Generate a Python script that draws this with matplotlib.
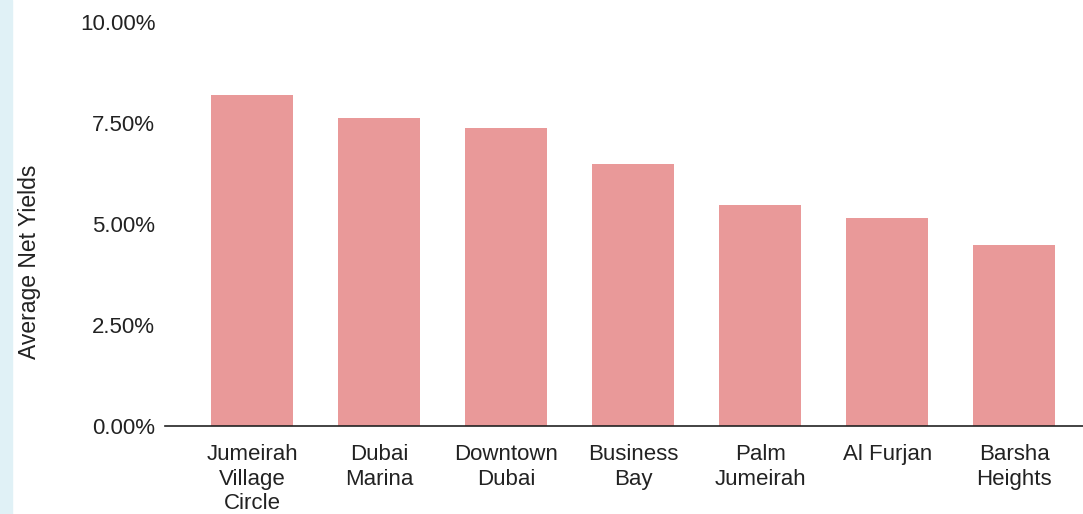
import matplotlib
matplotlib.use('Agg')
import matplotlib.pyplot as plt
from matplotlib.patches import Rectangle
from matplotlib.ticker import FuncFormatter

plt.rcParams['font.family'] = ['Liberation Sans', 'DejaVu Sans']

areas = ['Jumeirah\nVillage\nCircle', 'Dubai\nMarina', 'Downtown\nDubai',
         'Business\nBay', 'Palm\nJumeirah', 'Al Furjan', 'Barsha\nHeights']
yields = [8.19, 7.62, 7.38, 6.49, 5.47, 5.15, 4.48]
yticks = [0, 2.5, 5, 7.5, 10]

BAR = '#e99999'
TEXT = '#222222'

fig = plt.figure(figsize=(10.83, 5.14), dpi=100)
fig.patches.append(Rectangle((0, 0), 12 / 1083, 1, transform=fig.transFigure,
                             color='#e0f1f6', zorder=0))
ax = fig.add_axes([165 / 1083, 1 - 426 / 514, 1 - 165 / 1083, (426 - 22) / 514])

x = list(range(len(areas)))
ax.bar(x, yields, width=0.645, color=BAR, zorder=2)
ax.set_xlim(-0.685, 6.54)
ax.set_ylim(0, 10)
ax.set_yticks(yticks)
ax.yaxis.set_major_formatter(FuncFormatter(lambda v, _: f'{v:.2f}%'))
ax.set_xticks(x)
ax.set_xticklabels(areas, fontsize=16, color=TEXT, linespacing=1.22)
ax.tick_params(axis='y', length=0, pad=7, labelsize=16, labelcolor=TEXT)
ax.tick_params(axis='x', length=0, pad=13)
for s in ['top', 'right', 'left']:
    ax.spines[s].set_visible(False)
ax.spines['bottom'].set_color('#222222')
ax.spines['bottom'].set_linewidth(1.2)
ax.spines['bottom'].set_zorder(3)

fig.text(30 / 1083, 1 - 262 / 514, 'Average Net Yields', rotation=90,
         ha='center', va='center', fontsize=16.5, color=TEXT)

fig.savefig('out.png', dpi=100)
